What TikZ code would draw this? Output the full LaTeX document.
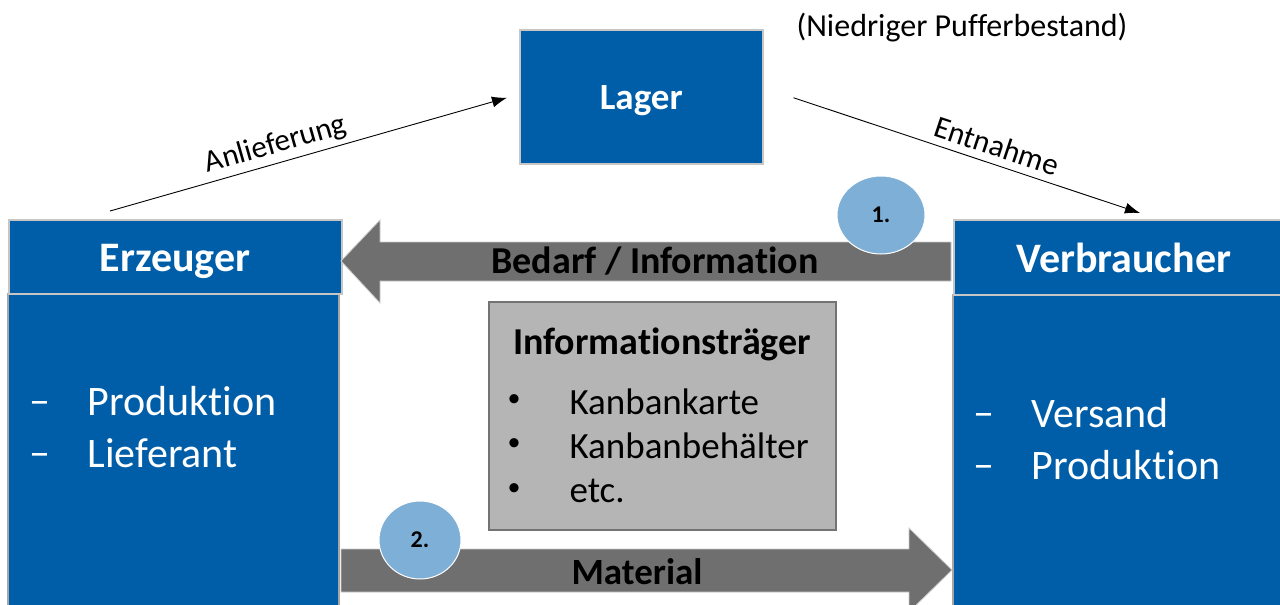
\documentclass[tikz,border=0pt]{standalone}
\usepackage{fontspec}
\setmainfont[Ligatures=CommonOff]{Carlito}
\usetikzlibrary{calc,shapes.geometric,arrows.meta}
\definecolor{bluebox}{HTML}{005EA8}
\definecolor{arrowgray}{HTML}{6F6F6F}
\definecolor{infogray}{HTML}{B5B5B5}
\definecolor{circblue}{HTML}{7EAFD6}
\tikzset{
  hdr/.style={fill=bluebox,draw=gray!45,line width=1.5pt,text=white,text height=30pt,text depth=0pt,font=\fontsize{42}{46}\selectfont\bfseries},
  body/.style={fill=bluebox,draw=gray!70,line width=1.5pt},
  bigarrow/.style={fill=arrowgray,draw=gray!40,line width=0.8pt},
  numcirc/.style={ellipse,fill=circblue,draw=white,line width=1pt,font=\fontsize{24}{26}\selectfont\bfseries},
  thin/.style={-{Latex[length=15pt,width=11pt]},line width=0.9pt,black},
  lbl/.style={font=\fontsize{31}{34}\selectfont},
  listtxt/.style={text=white,anchor=west,font=\fontsize{42}{46}\selectfont},
  dashtxt/.style={text=white,anchor=west,yshift=-5pt,font=\fontsize{42}{46}\selectfont},
  infotxt/.style={anchor=west,font=\fontsize{37}{40}\selectfont},
  bul/.style={anchor=center,font=\fontsize{26}{30}\selectfont},
}
\begin{document}
\begin{tikzpicture}[x=1pt,y=-1pt]
\useasboundingbox (0,0) rectangle (1280,605);
\clip (0,0) rectangle (1280,605);
% Lager
\node[hdr,minimum width=243pt,minimum height=134pt,anchor=north west,text height=26pt,font=\fontsize{37}{40}\selectfont\bfseries] (lager) at (519,29) {Lager};
\node[lbl,font=\fontsize{32}{36}\selectfont] (puffer) at (962,28) {(Niedriger Pufferbestand)};
% Erzeuger
\draw[body] (8,294) rectangle (339,620);
\node[hdr,minimum width=333pt,minimum height=74pt,anchor=north west] (erz) at (8,219) {Erzeuger};
\node[dashtxt] (e1) at (26,403) {–};
\node[listtxt] (e1t) at (84,401) {Produktion};
\node[dashtxt] (e2) at (26,455) {–};
\node[listtxt] (e2t) at (84,453) {Lieferant};
% Verbraucher
\draw[body] (953,295) rectangle (1290,620);
\node[hdr,minimum width=340pt,minimum height=75pt,anchor=north west] (ver) at (953,219) {Verbraucher};
\node[dashtxt] (v1) at (970,415) {–};
\node[listtxt] (v1t) at (1028,413) {Versand};
\node[dashtxt] (v2) at (970,467) {–};
\node[listtxt] (v2t) at (1028,465) {Produktion};
% top arrow
\draw[bigarrow] (951,242) -- (380,242) -- (380,220) -- (341,261) -- (380,303) -- (380,281) -- (951,281) -- cycle;
\node[font=\fontsize{38}{42}\selectfont\bfseries] (bedarf) at (655,261) {Bedarf / Information};
\node[numcirc,minimum width=88pt,minimum height=78pt] (c1) at (881,215) {1.};
% info box
\node[fill=infogray,draw=gray!90!black,line width=1.5pt,minimum width=347pt,minimum height=228pt,anchor=north west] (info) at (488,301) {};
\node[font=\fontsize{38}{42}\selectfont\bfseries] (infot) at (662,344) {Informationsträger};
\node[bul] (b1) at (514,401) {•};
\node[infotxt] (b1t) at (566,402) {Kanbankarte};
\node[bul] (b2) at (514,445) {•};
\node[infotxt] (b2t) at (566,446) {Kanbanbehälter};
\node[bul] (b3) at (514,490) {•};
\node[infotxt] (b3t) at (566,491) {etc.};
% bottom arrow
\draw[bigarrow] (341,549) -- (909,549) -- (909,528) -- (952,570) -- (909,612) -- (909,592) -- (341,592) -- cycle;
\node[font=\fontsize{37}{40}\selectfont\bfseries] (mat) at (637,572) {Material};
\node[numcirc,minimum width=82pt,minimum height=78pt] (c2) at (420,540) {2.};
% thin connectors
\coordinate (a0) at ($(erz.north west)+(102,-8)$);
\coordinate (a1) at ($(lager.west)+(-12,1)$);
\draw[thin] (a0) -- (a1) node[pos=0.43,above,sloped,lbl,yshift=1pt] {Anlieferung};
\coordinate (n0) at ($(lager.east)+(30,1)$);
\coordinate (n1) at ($(ver.north west)+(187,-6)$);
\draw[thin] (n0) -- (n1) node[pos=0.57,above,sloped,lbl,yshift=4pt] {Entnahme};
\end{tikzpicture}
\end{document}
